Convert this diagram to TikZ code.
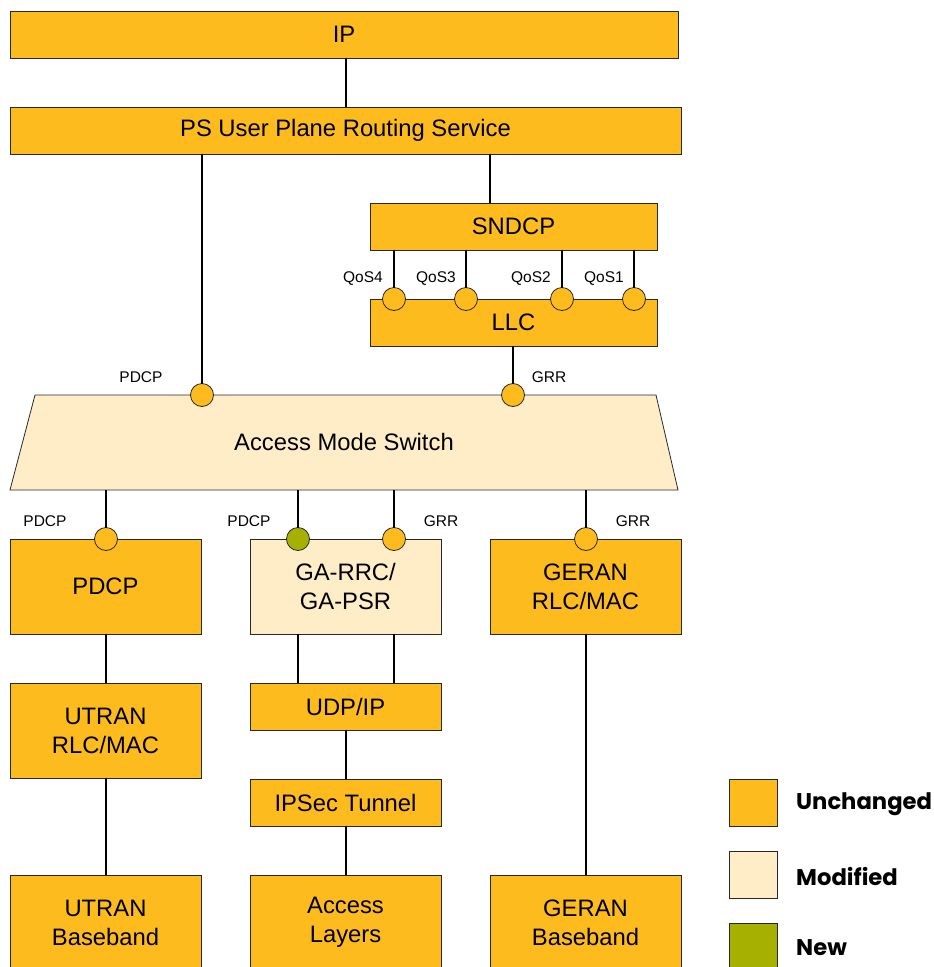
\documentclass[tikz,border=0pt]{standalone}
\usepackage{fontspec}
\setmainfont{Liberation Sans}
\newfontfamily\legfont{Poppins}
\definecolor{orng}{RGB}{253,187,30}
\definecolor{modc}{RGB}{255,237,200}
\definecolor{newc}{RGB}{166,176,0}
\definecolor{edge}{RGB}{40,40,40}
\begin{document}
\begin{tikzpicture}[x=1pt,y=-1pt,
  box/.style={draw=edge,line width=0.8pt,inner sep=0pt,outer sep=0pt,anchor=north west,
    align=center,font=\fontsize{23.8}{29}\selectfont},
  ub/.style={box,fill=orng},
  mb/.style={box,fill=modc},
  port/.style={circle,draw=edge,line width=0.8pt,minimum size=23pt,inner sep=0pt,outer sep=0pt,fill=orng},
  lab/.style={font=\fontsize{15.5}{17}\selectfont,inner sep=0pt},
  conn/.style={line width=1.3pt,black},
  legtext/.style={anchor=west,inner sep=0pt,font=\legfont\bfseries\fontsize{22.7}{26}\selectfont}]
\useasboundingbox (0,0) rectangle (934,967);
\clip (0,0) rectangle (934,967);
% top boxes
\node[ub,minimum width=668pt,minimum height=47pt] (ip) at (10,11) {IP};
\node[ub,minimum width=671pt,minimum height=47pt] (ps) at (10,107) {PS User Plane Routing Service};
\node[ub,minimum width=287pt,minimum height=47pt] (sndcp) at (370,203) {SNDCP};
\node[ub,minimum width=287pt,minimum height=47pt] (llc) at (370,299) {LLC};
% access mode switch
\draw[draw=edge,line width=0.8pt,fill=modc] (10,490) -- (35,395) -- (656,395) -- (678,490) -- cycle;
\node[font=\fontsize{23.8}{29}\selectfont] (ams) at (344,442) {Access Mode Switch};
\coordinate (amst) at (0,395);
\coordinate (amsb) at (0,490);
% lower boxes
\node[ub,minimum width=191pt,minimum height=95pt] (pdcp) at (10,539) {PDCP};
\node[mb,minimum width=191pt,minimum height=95pt] (garrc) at (250,539) {GA-RRC/\\GA-PSR};
\node[ub,minimum width=191pt,minimum height=95pt] (geran) at (490,539) {GERAN\\RLC/MAC};
\node[ub,minimum width=191pt,minimum height=95pt] (utran) at (10,683) {UTRAN\\RLC/MAC};
\node[ub,minimum width=191pt,minimum height=47pt] (udp) at (250,683) {UDP/IP};
\node[ub,minimum width=191pt,minimum height=47pt] (ipsec) at (250,779) {IPSec Tunnel};
\node[ub,minimum width=191pt,minimum height=95pt] (utbb) at (10,875) {UTRAN\\Baseband};
\node[ub,minimum width=191pt,minimum height=95pt] (acc) at (250,875) {Access\\Layers};
\node[ub,minimum width=191pt,minimum height=95pt] (gebb) at (490,875) {GERAN\\Baseband};
% ports
\node[port] (q4) at (394,299) {};
\node[port] (q3) at (466,299) {};
\node[port] (q2) at (562,299) {};
\node[port] (q1) at (634,299) {};
\node[port] (pp) at (202,395) {};
\node[port] (pg) at (513,395) {};
\node[port] (bp1) at (106,539) {};
\node[port,fill=newc] (bp2) at (298,539) {};
\node[port] (bg1) at (394,539) {};
\node[port] (bg2) at (586,539) {};
% connectors
\coordinate (ipx) at (346,0);
\coordinate (psx) at (490,0);
\draw[conn] (ip.south -| ipx) -- (ps.north -| ipx);
\draw[conn] (ps.south -| psx) -- (sndcp.north -| psx);
\foreach \q in {q4,q3,q2,q1} \draw[conn] (sndcp.south -| \q) -- (\q.north);
\draw[conn] (ps.south -| pp) -- (pp.north);
\draw[conn] (llc.south -| pg) -- (pg.north);
\foreach \q in {bp1,bp2,bg1,bg2} \draw[conn] (amsb -| \q) -- (\q.north);
\draw[conn] (pdcp.south -| bp1) -- (utran.north -| bp1);
\draw[conn] (utran.south -| bp1) -- (utbb.north -| bp1);
\draw[conn] (garrc.south -| bp2) -- (udp.north -| bp2);
\draw[conn] (garrc.south -| bg1) -- (udp.north -| bg1);
\draw[conn] (udp.south -| ipx) -- (ipsec.north -| ipx);
\draw[conn] (ipsec.south -| ipx) -- (acc.north -| ipx);
\draw[conn] (geran.south -| bg2) -- (gebb.north -| bg2);
% labels
\node[lab] (lq4) at (363,279) {QoS4};
\node[lab] (lq3) at (436,279) {QoS3};
\node[lab] (lq2) at (531,279) {QoS2};
\node[lab] (lq1) at (604,279) {QoS1};
\node[lab] (lpp) at (141,377) {PDCP};
\node[lab] (lpg) at (549,377) {GRR};
\node[lab] (lb1) at (45,521) {PDCP};
\node[lab] (lb2) at (249,521) {PDCP};
\node[lab] (lb3) at (441,521) {GRR};
\node[lab] (lb4) at (633,521) {GRR};
% legend
\node[ub,minimum width=48pt,minimum height=47pt] (k1) at (729,779) {};
\node[mb,minimum width=48pt,minimum height=47pt] (k2) at (729,851) {};
\node[box,fill=newc,minimum width=48pt,minimum height=47pt] (k3) at (729,923) {};
\node[legtext] (t1) at (796,804) {Unchanged};
\node[legtext] (t2) at (796,876) {Modified};
\node[legtext] (t3) at (796,948) {New};
\end{tikzpicture}
\end{document}
